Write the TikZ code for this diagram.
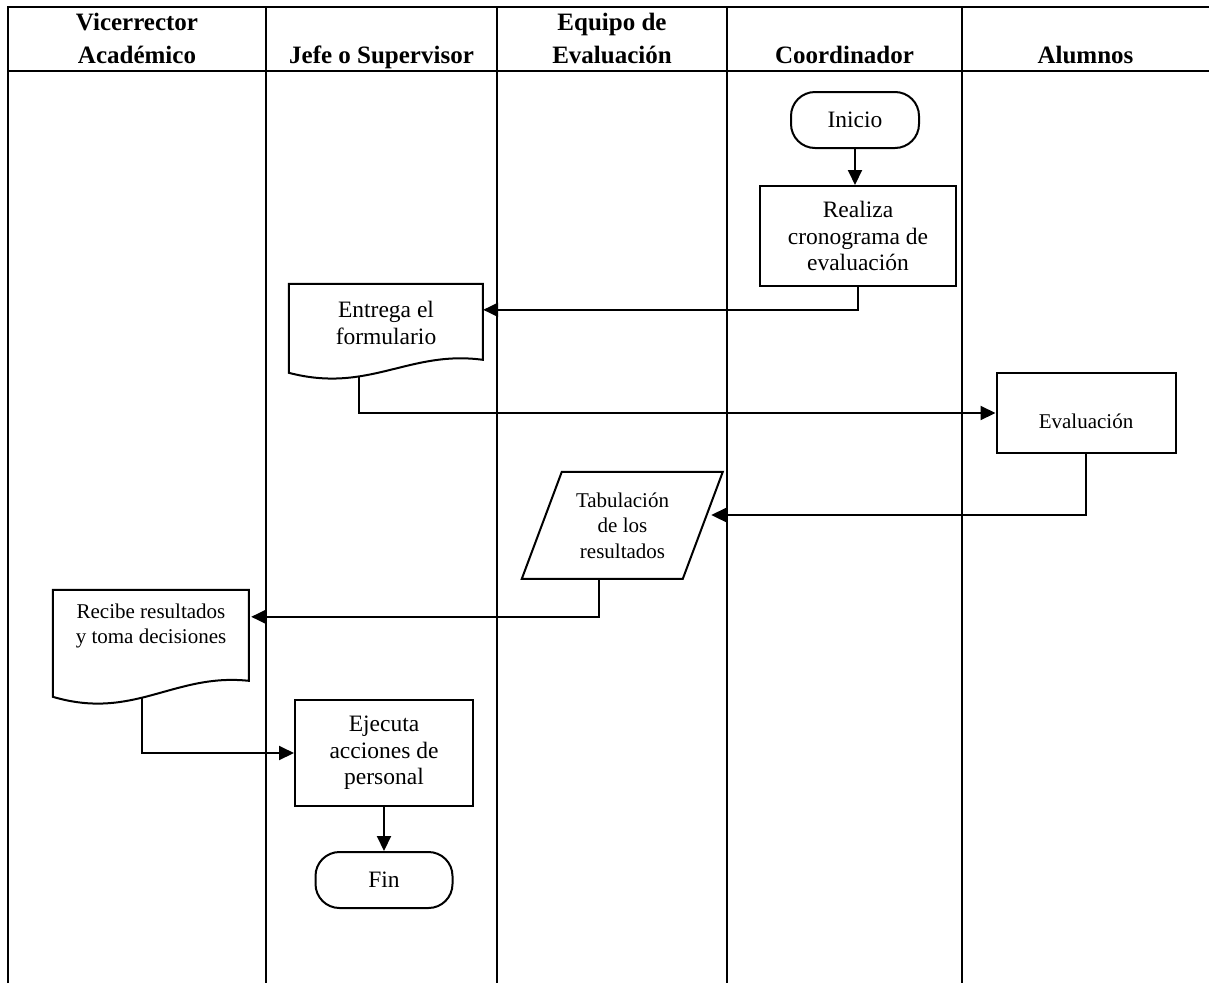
\documentclass[tikz,border=0pt]{standalone}
\usepackage{fontspec}
\setmainfont{Liberation Serif}
\usetikzlibrary{arrows.meta,calc}

\begin{document}
\begin{tikzpicture}[x=1pt,y=-1pt,
  lane/.style={line width=2pt},
  head/.style={font=\fontsize{25}{33}\selectfont\bfseries, align=center, anchor=base, inner sep=0pt},
  txt/.style={font=\fontsize{23.5}{26.7}\selectfont, align=center},
  small/.style={font=\fontsize{21}{25.7}\selectfont, align=center},
  procbox/.style={draw, line width=2pt, txt},
  term/.style={draw, line width=2pt, rounded corners=24pt, txt, minimum width=128pt, minimum height=56pt},
  docbox/.style={inner sep=0pt},
  outline/.style={line width=2pt},
  arr/.style={line width=2pt, -{Triangle[length=15pt,width=14pt]}},
]
\useasboundingbox (0,0) rectangle (1209,983);

% swimlane grid
\draw[lane] (8,983) -- (8,7) -- (1209,7);
\draw[lane] (8,71) -- (1209,71);
\foreach \x in {266,497,727,962} \draw[lane] (\x,7) -- (\x,983);

% lane headings
\node[head] (h1) at (137,63) {Vicerrector\\Académico};
\node[head] (h2) at (381.5,63) {Jefe o Supervisor};
\node[head] (h3) at (612,63) {Equipo de\\Evaluación};
\node[head] (h4) at (844.5,63) {Coordinador};
\node[head] (h5) at (1085.5,63) {Alumnos};

% flow steps
\node[term] (inicio) at (855,120) {Inicio};
\node[procbox, minimum width=196pt, minimum height=100pt] (realiza) at (858,236) {Realiza\\cronograma de\\evaluación};
\node[docbox, txt, minimum width=194pt, minimum height=78pt] (entrega) at (386,323) {Entrega el\\formulario};
\node[procbox, small, minimum width=179pt, minimum height=80pt] (evaluacion) at (1086,413) {\raisebox{-8pt}[\height][\depth]{Evaluación}};
\node[docbox, small, minimum width=161pt, minimum height=107pt] (tab) at (622.5,525.5) {Tabulación\\de los\\resultados};
\node[docbox, small, minimum width=196pt, minimum height=72pt] (recibe) at (151,626) {Recibe resultados\\y toma decisiones};
\node[procbox, minimum width=178pt, minimum height=106pt] (ejecuta) at (384,753) {Ejecuta\\acciones de\\personal};
\node[term, minimum width=137pt] (fin) at (384,880) {Fin};

% document outlines (wavy bottom edge)
\begin{scope}[shift={(entrega.north west)}]
  \draw[outline] (0,0) -- (194,0) -- (194,76) .. controls (120,66) and (80,110) .. (0,89)
    coordinate[pos=0.66] (entrega-out) -- cycle;
\end{scope}
\begin{scope}[shift={(recibe.north west)}]
  \draw[outline] (0,0) -- (196,0) -- (196,91) .. controls (121,83) and (81,131) .. (0,107)
    coordinate[pos=0.56] (recibe-out) -- cycle;
\end{scope}
% data (parallelogram) outline
\begin{scope}[shift={(tab.north west)}]
  \draw[outline] (20,0) -- (181,0) -- (141,107) -- (-20,107) -- cycle;
\end{scope}

% connectors
\draw[arr] (inicio.south) -- (inicio.south |- realiza.north);
\draw[arr] (realiza.south) |- ($(entrega.north east)+(0,26)$);
\draw[arr] (entrega-out) |- (evaluacion.west);
\draw[arr] (evaluacion.south) |- ($(tab.east)+(8,-10.5)$);
\draw[arr] ($(tab.south)+(-23.5,0)$) |- ($(recibe.north east)+(2,27)$);
\draw[arr] (recibe-out) |- (ejecuta.west);
\draw[arr] (ejecuta.south) -- (fin.north);
\end{tikzpicture}
\end{document}
